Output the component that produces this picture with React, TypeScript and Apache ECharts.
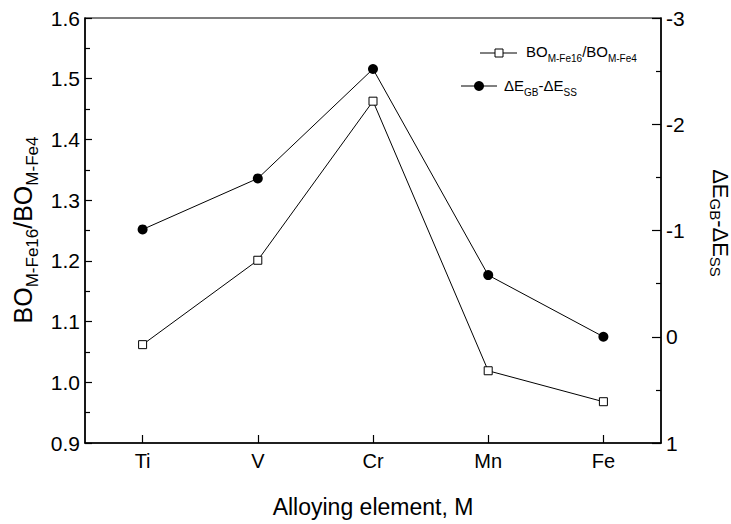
import React, { useEffect, useRef } from "react";
import * as echarts from "echarts";

const categories = ["Ti", "V", "Cr", "Mn", "Fe"];
const boRatio = [1.062, 1.201, 1.463, 1.019, 0.968];
const deltaE = [-1.01, -1.49, -2.52, -0.58, 0.0];

const leftTitle = "{m|BO}{s|M-Fe16}{m|/BO}{s|M-Fe4}";
const rightTitle = "{m|ΔE}{s|GB}{m|-ΔE}{s|SS}";
const legendBO = "{m|BO}{s|M-Fe16}{m|/BO}{s|M-Fe4}";
const legendDE = "{m|ΔE}{s|GB}{m|-ΔE}{s|SS}";
const xTitle = "Alloying element, M";

const FONT = "'Liberation Sans', Arial, Helvetica, sans-serif";

export default function App() {
  const ref = useRef<HTMLDivElement>(null);
  useEffect(() => {
    document.body.style.margin = "0";
    const chart = echarts.init(ref.current!, null, { renderer: "svg" });
    const axisLine = { show: true, onZero: false, lineStyle: { color: "#000", width: 1.5 } };
    chart.setOption({
      animation: false,
      backgroundColor: "#fff",
      textStyle: { fontFamily: FONT, color: "#000" },
      grid: {
        left: 85,
        right: 70,
        top: 18,
        bottom: 81,
        show: true,
        borderColor: "#000",
        borderWidth: 1.2,
        backgroundColor: "transparent",
      },
      xAxis: {
        type: "category",
        data: categories,
        boundaryGap: true,
        axisLine,
        axisTick: { show: true, alignWithLabel: true, inside: true, length: 8, lineStyle: { color: "#000", width: 1.2 } },
        axisLabel: { color: "#000", fontSize: 20, margin: 8, fontFamily: FONT },
        splitLine: { show: false },
        name: xTitle,
        nameLocation: "middle",
        nameGap: 52,
        nameTextStyle: { color: "#000", fontSize: 23, fontFamily: FONT },
      },
      yAxis: [
        {
          type: "value",
          position: "left",
          min: 0.9,
          max: 1.6,
          interval: 0.1,
          axisLine,
          axisTick: { show: true, inside: true, length: 7, lineStyle: { color: "#000", width: 1.2 } },
          minorTick: { show: true, splitNumber: 2, length: 5, lineStyle: { color: "#000", width: 1.2 } },
          axisLabel: { color: "#000", fontSize: 21, margin: 5, fontFamily: FONT, formatter: (v: number) => v.toFixed(1) },
          splitLine: { show: false },
          minorSplitLine: { show: false },
        },
        {
          type: "value",
          position: "right",
          min: -3,
          max: 1,
          interval: 1,
          inverse: true,
          axisLine,
          axisTick: { show: true, inside: true, length: 9, lineStyle: { color: "#000", width: 1.2 } },
          minorTick: { show: true, splitNumber: 2, length: 5, lineStyle: { color: "#000", width: 1.2 } },
          axisLabel: { color: "#000", fontSize: 21, margin: 5, fontFamily: FONT },
          splitLine: { show: false },
          minorSplitLine: { show: false },
        },
      ],
      series: [
        {
          type: "line",
          name: "BO",
          data: boRatio,
          yAxisIndex: 0,
          symbol: "rect",
          symbolSize: 8,
          itemStyle: { color: "#fff", borderColor: "#000", borderWidth: 1 },
          lineStyle: { color: "#000", width: 1 },
          z: 3,
        },
        {
          type: "line",
          name: "dE",
          data: deltaE,
          yAxisIndex: 1,
          symbol: "circle",
          symbolSize: 10,
          itemStyle: { color: "#000" },
          lineStyle: { color: "#000", width: 1 },
          z: 3,
        },
      ],
      graphic: [
        {
          type: "text",
          x: 23,
          y: 230,
          rotation: Math.PI / 2,
          style: {
            text: leftTitle,
            align: "center",
            verticalAlign: "middle",
            fill: "#000",
            rich: {
              m: { fontSize: 25, fontFamily: FONT, fill: "#000" },
              s: { fontSize: 17, fontFamily: FONT, fill: "#000", padding: [18, 0, 0, 0] },
            },
          },
        },
        {
          type: "text",
          x: 720,
          y: 223,
          rotation: -Math.PI / 2,
          style: {
            text: rightTitle,
            align: "center",
            verticalAlign: "middle",
            fill: "#000",
            rich: {
              m: { fontSize: 22, fontFamily: FONT, fill: "#000" },
              s: { fontSize: 15, fontFamily: FONT, fill: "#000", padding: [10, 0, 0, 0] },
            },
          },
        },
        { type: "line", shape: { x1: 480, y1: 53, x2: 517, y2: 53 }, style: { stroke: "#000", lineWidth: 1 } },
        { type: "rect", shape: { x: 495, y: 49, width: 8, height: 8 }, style: { fill: "#fff", stroke: "#000", lineWidth: 1 } },
        {
          type: "text",
          x: 526,
          y: 51,
          style: {
            text: legendBO,
            align: "left",
            verticalAlign: "middle",
            fill: "#000",
            rich: {
              m: { fontSize: 15, fontFamily: FONT, fill: "#000" },
              s: { fontSize: 10, fontFamily: FONT, fill: "#000", padding: [15, 0, 0, 0] },
            },
          },
        },
        { type: "line", shape: { x1: 461, y1: 86, x2: 497, y2: 86 }, style: { stroke: "#000", lineWidth: 1 } },
        { type: "circle", shape: { cx: 479, cy: 86, r: 5 }, style: { fill: "#000" } },
        {
          type: "text",
          x: 504,
          y: 85,
          style: {
            text: legendDE,
            align: "left",
            verticalAlign: "middle",
            fill: "#000",
            rich: {
              m: { fontSize: 15, fontFamily: FONT, fill: "#000" },
              s: { fontSize: 10, fontFamily: FONT, fill: "#000", padding: [15, 0, 0, 0] },
            },
          },
        },
      ],
    });
    return () => chart.dispose();
  }, []);
  return <div ref={ref} style={{ position: "fixed", left: 0, top: 0, width: 731, height: 524 }} />;
}
